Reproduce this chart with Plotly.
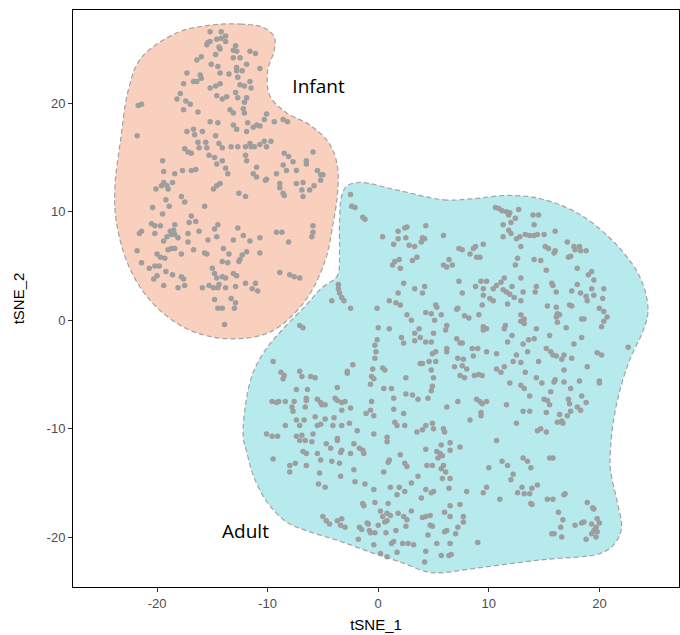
import plotly.graph_objects as go

# ---- data (tSNE coordinates) ----
infant_x = [-15.2,-14.2,-13.8,-14.6,-14.2,-13.8,-15.4,-15.5,-15.2,-14.4,-14.3,-12.9,-13.1,-12.8,-11.6,-11.1,-14.7,-16.0,-16.4,-13.1,-12.5,-15.1,-14.5,-12.8,-12.8,-12.3,-11.9,-10.7,-17.3,-16.1,-16.0,-16.7,-16.4,-14.3,-13.5,-12.7,-12.5,-12.1,-11.6,-11.5,-15.2,-14.7,-14.3,-17.6,-17.9,-18.2,-14.6,-14.1,-13.7,-12.9,-12.7,-11.9,-12.1,-12.2,-12.1,-13.4,-13.1,-17.4,-17.0,-17.6,-16.3,-21.4,-21.7,-21.8,-10.1,-10.3,-10.7,-9.4,-8.6,-8.2,-15.2,-14.5,-13.1,-12.8,-11.8,-11.9,-11.3,-11.0,-17.3,-16.7,-16.6,-15.9,-14.7,-14.4,-14.1,-16.3,-15.6,-16.2,-15.5,-13.3,-12.7,-12.0,-11.6,-11.5,-11.2,-10.7,-10.3,-10.1,-9.7,-17.5,-17.2,-16.9,-15.3,-14.8,-14.1,-14.6,-12.0,-11.9,-19.5,-19.4,-18.4,-17.7,-16.9,-16.5,-13.8,-13.6,-11.0,-11.3,-11.0,-10.1,-8.5,-8.1,-7.7,-8.6,-8.3,-7.4,-6.5,-6.5,-5.9,-5.5,-5.2,-5.0,-9.2,-5.2,
            -19.4,-19.1,-19.6,-19.0,-20.1,-18.6,-14.3,-14.6,-14.9,-10.2,-8.9,-8.9,-7.4,-6.8,-6.9,-6.2,-5.8,-8.6,-8.5,-6.8,-12.6,-12.0,-17.8,-17.5,-19.2,-18.9,-20.4,-19.5,-15.7,-16.9,-17.1,-16.5,-20.5,-20.2,-19.7,-18.4,-21.4,-21.6,-20.2,-18.8,-18.5,-18.7,-18.4,-18.1,-19.1,-19.4,-17.2,-17.2,-16.2,-15.4,-14.8,-14.5,-14.6,-12.7,-13.1,-12.2,-11.6,-10.7,-9.2,-8.7,-8.1,-5.9,-5.9,-6.0,-21.8,-21.4,-20.0,-19.7,-19.3,-19.0,-18.7,-18.4,-17.8,-16.7,-15.7,-15.5,-14.0,-13.5,-14.1,-13.6,-12.3,-12.5,-12.6,-11.9,-10.7,-20.7,-20.2,-19.8,-19.2,-18.6,-17.8,-17.6,-20.0,-20.3,-19.4,-18.1,-17.5,-15.0,-14.8,-14.6,-14.1,-13.8,-12.8,-13.1,-15.9,-15.3,-14.9,-14.5,-14.4,-13.8,-12.9,-12.0,-11.4,-11.1,-10.9,-8.9,-8.0,-7.6,-7.1,-14.8,-14.5,-14.1,-13.3,-12.9,-13.0,-13.9]
infant_y = [26.6,26.6,26.2,25.9,26.0,25.7,25.6,25.4,25.7,25.2,25.0,25.3,24.9,24.8,24.8,24.6,24.5,24.3,24.0,24.2,24.2,23.6,23.4,23.3,23.0,23.0,23.6,23.2,22.8,22.6,22.3,22.0,22.0,22.8,22.7,22.4,21.7,21.6,22.0,21.4,21.4,21.6,21.8,21.8,20.9,20.4,20.7,20.4,20.6,21.0,20.5,20.5,20.1,19.5,19.1,19.4,19.1,20.2,19.9,19.4,19.2,19.9,19.8,17.0,19.0,18.5,17.9,18.3,18.5,18.3,18.3,18.2,18.0,17.6,18.2,17.4,17.8,18.0,17.4,17.6,17.1,17.4,17.0,16.3,15.9,16.4,16.4,15.9,15.9,16.0,16.0,16.0,16.3,16.0,16.0,16.2,16.5,16.0,16.5,15.8,15.5,15.4,15.2,15.0,14.7,14.4,15.2,14.7,14.7,13.7,13.5,13.8,13.8,13.9,14.0,13.5,14.1,13.5,13.2,13.0,15.4,15.1,14.6,14.3,13.8,13.8,14.7,14.4,15.5,13.8,13.4,13.4,13.5,12.9,
            12.7,12.4,12.4,12.1,12.1,12.7,12.6,12.4,12.1,12.9,12.6,12.2,12.6,12.7,12.0,12.0,12.4,11.7,11.5,11.4,11.7,11.4,11.4,10.9,11.1,10.5,10.4,9.8,10.5,9.6,9.0,9.1,8.9,8.7,8.7,8.8,8.2,8.0,8.0,8.2,8.3,7.9,7.9,7.6,7.7,7.3,8.0,7.2,8.2,7.4,8.4,8.8,7.7,8.5,7.4,7.8,7.3,7.6,8.1,8.1,7.2,8.7,8.1,7.7,6.4,5.3,6.1,5.8,5.7,6.5,6.6,6.6,6.1,6.5,6.2,6.1,6.6,6.1,5.4,5.3,6.0,5.6,5.4,6.3,6.2,4.8,5.0,5.0,4.5,4.2,4.0,3.8,4.1,3.8,3.2,3.0,3.2,4.8,4.3,3.9,4.0,3.9,4.1,4.3,3.0,3.2,3.0,3.0,3.3,3.0,3.1,3.4,2.9,3.4,2.7,4.4,4.2,4.0,3.9,1.9,1.1,1.1,2.0,1.6,1.1,-0.4]

adult_x = [-7.1,-6.8,
           -2.5,-2.4,-2.1,-1.4,-1.2,0.4,1.8,2.4,2.6,4.3,1.8,1.4,2.5,2.8,3.3,4.0,4.2,3.9,5.9,1.9,1.5,1.3,2.0,3.1,3.5,5.9,6.2,-3.6,-3.6,-3.5,-3.3,-4.2,-3.1,2.3,3.3,4.2,4.0,1.8,1.0,1.6,2.0,5.2,-2.5,-0.1,
           10.6,10.9,11.2,11.6,11.9,11.8,12.7,14.0,14.5,14.1,12.4,12.0,11.3,11.3,11.8,12.0,12.5,12.8,13.3,13.7,14.1,14.4,15.0,16.0,7.3,7.6,8.6,8.8,9.5,8.3,8.9,9.2,12.9,15.1,15.4,15.9,16.0,17.1,17.7,18.2,18.8,17.2,17.4,17.8,18.3,6.4,6.7,12.6,12.4,14.1,14.7,15.2,12.9,18.0,19.0,19.3,19.5,7.3,7.6,8.8,9.3,9.8,9.5,9.5,10.1,10.4,10.4,10.7,11.1,11.4,11.3,11.6,11.9,12.3,12.1,12.9,13.1,11.7,14.3,14.2,15.7,15.8,16.1,15.3,16.1,17.3,17.5,17.5,18.0,18.3,18.8,18.9,19.3,19.5,20.4,20.3,20.0,7.2,9.4,
           0.0,1.0,-0.1,-0.3,-0.2,-0.3,-0.5,-0.6,-0.7,-0.4,2.6,3.0,4.3,4.8,5.1,5.3,5.7,6.1,6.2,2.1,2.3,3.3,3.7,3.8,3.3,4.3,4.8,5.0,4.9,5.2,5.2,4.6,4.0,3.8,4.8,5.0,0.4,0.6,2.5,-2.3,-2.8,-2.8,-3.7,-9.5,-8.8,-8.5,-8.6,-7.1,-6.9,-6.1,-5.7,-7.4,-6.4,-6.5,-6.5,-5.5,-5.2,-5.1,-4.8,-3.9,-3.7,-3.3,-3.0,-3.3,-2.5,-9.6,-9.2,-9.0,-8.4,-7.8,-7.7,-7.6,-6.6,-7.4,-7.1,-6.7,-8.4,-5.7,-5.5,-5.2,-4.8,-4.0,-4.1,-3.3,-2.6,-1.9,-1.1,-0.7,-0.4,-0.6,0.5,1.2,1.4,1.4,1.5,1.7,2.3,2.4,2.5,3.1,3.6,4.5,4.8,4.9,3.5,4.0,4.3,4.9,5.0,5.9,6.0,6.2,-10.1,-9.6,-9.1,-7.4,-6.9,-5.9,-3.7,-0.4,0.8,
           7.1,7.8,8.2,9.1,7.1,7.4,7.6,6.2,6.2,7.2,7.7,6.9,7.6,8.0,7.4,7.8,8.7,9.1,9.4,8.6,8.5,9.0,9.8,10.7,9.5,9.8,9.5,11.5,11.4,12.1,11.7,12.9,12.9,13.2,13.2,14.3,14.1,13.6,13.1,13.5,12.5,12.2,12.9,14.5,16.2,16.1,16.4,16.2,17.0,15.5,15.2,15.6,15.8,16.1,16.6,16.8,17.5,18.4,18.6,18.4,17.7,20.4,20.7,20.4,20.2,19.8,20.2,22.6,13.3,14.3,14.8,12.9,13.2,11.9,10.7,11.1,11.4,16.0,15.9,16.8,17.4,18.2,18.9,16.8,20.0,20.0,13.7,15.6,15.0,15.3,15.5,15.2,13.1,13.7,11.6,8.9,9.2,9.4,9.8,9.3,9.3,7.2,8.3,17.2,17.3,18.0,18.3,18.4,18.8,17.4,17.1,16.4,16.2,16.6,16.7,12.5,14.7,15.2,14.4,10.7,
           -7.1,-6.6,-6.0,-9.5,-8.0,-8.0,-7.5,-6.8,-6.5,-6.5,-5.5,-5.2,-4.7,-4.3,-3.7,-3.4,-3.3,-4.2,-3.5,-5.3,-3.4,-5.4,-4.8,-2.2,-2.5,-1.7,-1.4,-1.3,-2.2,-2.1,-1.2,-0.4,0.8,1.0,0.9,0.5,2.0,2.4,2.6,1.1,1.9,1.7,2.4,0.9,3.0,3.6,4.3,4.4,4.9,5.3,5.6,5.4,5.8,5.9,5.7,6.1,5.8,6.5,5.7,5.0,4.8,3.9,4.3,-1.4,-1.3,-0.3,0.2,0.4,0.8,0.8,0.6,1.1,0.0,-0.9,-1.0,-0.8,-0.3,-0.7,0.7,1.6,1.8,2.3,2.6,2.5,3.0,-5.0,-4.7,-4.4,-3.7,-3.3,-3.4,-3.0,-1.7,-1.5,-1.8,-0.4,0.2,0.8,1.2,1.4,1.7,2.2,2.7,3.2,4.0,4.3,4.7,4.7,4.9,4.5,5.3,6.0,6.2,6.0,6.5,4.3,5.7,4.2,6.4,6.5,6.4,6.5,
           6.5,7.4,11.2,11.7,10.0,13.1,13.5,13.8,15.5,15.8,12.2,12.0,14.4,13.9,13.0,12.6,13.2,13.7,9.8,9.5,8.0,11.0,13.8,13.9,15.3,15.8,16.9,16.8,7.4,7.7,7.7,7.2,7.0,9.0,6.5,6.6,16.3,16.7,16.5,15.7,15.9,16.6,17.8,18.4,18.6,18.9,19.4,19.5,19.3,19.8,20.0,19.7,19.5,19.3,19.8,19.7,18.8]
adult_y = [-0.5,-0.7,
           11.6,10.5,10.4,9.5,9.3,7.7,8.2,8.5,8.6,8.7,7.5,7.0,7.6,6.9,6.8,7.6,7.5,7.2,7.8,5.6,5.4,5.1,4.8,5.5,5.8,5.1,4.9,3.3,2.9,2.5,2.1,1.8,1.8,3.4,2.9,3.1,2.5,2.5,1.8,1.6,1.4,1.4,1.1,1.1,
           10.4,10.3,10.1,10.0,9.9,9.7,10.2,9.7,9.7,8.8,9.4,9.0,8.8,7.7,8.3,8.0,7.5,7.7,7.9,7.8,7.8,7.9,7.9,8.2,6.6,6.5,6.6,6.8,7.0,6.1,5.8,5.8,6.8,6.8,6.6,6.2,6.4,7.2,6.8,6.8,6.4,5.8,5.9,6.5,6.4,5.6,5.1,5.7,5.1,5.6,5.5,4.6,3.9,4.8,4.2,4.5,3.7,3.6,2.5,3.1,3.6,3.6,2.9,2.3,2.0,1.8,2.9,3.2,3.5,3.9,2.8,2.6,2.4,2.1,3.1,1.8,2.6,1.5,3.1,2.6,3.4,3.2,2.6,1.3,1.2,1.4,1.3,2.7,3.3,2.5,2.2,1.8,2.9,2.3,2.9,2.0,1.1,1.1,1.4,
           -0.7,-0.8,-1.8,-2.3,-2.9,-3.5,-4.5,-5.2,-5.9,-5.4,0.5,0.0,0.7,0.6,0.0,1.2,0.5,-0.9,-0.5,-1.6,-2.1,-1.2,-0.8,-1.6,-1.9,-2.0,-2.0,-1.2,-3.1,-2.9,-3.8,-3.8,-4.0,-4.0,-4.6,-5.3,-4.4,-4.6,-5.3,-4.1,-4.7,-4.9,-6.2,-3.8,-4.8,-5.1,-5.4,-4.7,-5.2,-5.2,-5.3,-6.4,-6.4,-7.2,-7.4,-7.3,-7.6,-7.8,-7.8,-7.2,-7.4,-7.6,-7.5,-8.3,-8.1,-7.5,-7.6,-7.5,-7.5,-8.0,-8.4,-7.5,-8.0,-9.2,-9.7,-9.2,-9.7,-8.9,-9.7,-9.6,-9.1,-9.0,-9.7,-9.7,-9.5,-10.2,-8.6,-8.3,-8.8,-7.5,-6.3,-6.3,-7.2,-8.2,-9.4,-9.7,-8.6,-9.7,-6.8,-6.9,-7.3,-7.2,-6.5,-6.1,-10.3,-10.1,-9.7,-9.5,-10.0,-10.0,-10.3,-8.0,-10.5,-10.7,-10.7,-10.7,-10.6,-10.5,-10.9,-10.5,-10.8,
           1.0,0.4,0.2,0.5,-1.7,-2.1,-2.1,-2.6,-2.9,-3.5,-3.6,-4.3,-4.2,-4.5,-5.1,-5.3,-5.1,-5.0,-5.1,-3.3,-2.6,-2.6,-2.9,-3.1,-0.6,-0.8,-0.9,-0.5,-0.8,-1.4,-2.0,0.5,-0.1,0.1,-0.3,-0.8,-1.7,-1.8,-2.2,-2.9,-3.2,-3.8,-3.9,-3.8,0.6,0.3,0.5,-0.2,-0.7,-1.4,-2.6,-2.9,-3.2,-3.3,-3.6,-3.2,-3.5,0.1,0.1,-1.6,-2.2,0.8,0.3,-0.1,-0.6,-3.0,-3.2,-2.5,-4.8,-5.3,-5.8,-6.0,-6.3,-5.8,-4.5,-4.8,-4.3,-5.5,-5.7,-5.7,-6.3,-5.6,-4.3,-4.6,-5.6,-5.8,-7.0,-6.6,-7.3,-7.4,-7.8,-8.5,-8.4,-8.4,-7.8,-7.3,-7.5,-7.7,-7.5,-8.5,-8.8,-7.5,-9.2,-7.3,-7.7,-8.0,-8.3,-7.0,-7.6,-8.4,-8.8,-8.7,-9.4,-9.3,-9.5,-9.5,-10.0,-10.3,-10.2,-11.1,
           -11.1,-11.1,-11.2,-12.8,-13.4,-14.0,-13.2,-12.1,-12.3,-13.4,-12.3,-12.9,-11.4,-11.8,-11.1,-12.2,-12.0,-13.0,-13.2,-14.1,-14.4,-15.1,-15.4,-11.4,-12.3,-11.8,-12.0,-12.3,-13.8,-14.9,-15.1,-15.6,-11.2,-12.9,-13.1,-14.0,-12.4,-13.2,-13.5,-15.4,-15.4,-16.1,-15.8,-16.9,-15.0,-14.4,-11.9,-13.4,-13.4,-12.1,-12.3,-12.7,-12.5,-13.4,-13.7,-14.0,-14.6,-12.0,-11.5,-15.8,-15.9,-16.4,-15.6,-16.9,-17.1,-16.8,-17.6,-18.1,-17.8,-18.5,-18.6,-18.0,-18.9,-18.8,-18.7,-19.4,-19.6,-19.6,-19.6,-19.4,-17.8,-18.1,-18.4,-19.0,-17.6,-18.1,-18.5,-18.8,-18.5,-18.3,-18.9,-19.1,-19.1,-19.3,-20.2,-20.7,-21.5,-21.8,-20.6,-20.4,-21.4,-20.6,-20.6,-20.7,-18.2,-18.1,-18.0,-18.9,-19.0,-19.8,-20.6,-19.5,-19.4,-17.7,-18.1,-21.3,-21.7,-22.3,-21.7,-17.1,-15.5,-14.6,
           -11.3,-11.7,-13.0,-13.4,-13.6,-12.7,-13.0,-13.6,-12.7,-12.7,-14.2,-14.7,-15.2,-15.5,-15.4,-15.9,-16.0,-16.0,-15.4,-15.9,-15.8,-16.5,-16.9,-17.0,-16.5,-16.5,-16.0,-16.1,-17.0,-18.1,-18.6,-19.1,-19.7,-20.5,-20.6,-21.6,-17.7,-18.4,-19.1,-19.7,-19.7,-20.0,-18.9,-18.7,-18.6,-16.8,-17.3,-17.4,-18.8,-18.3,-18.7,-19.1,-19.4,-19.7,-19.5,-20.0,-20.2]

# hull outlines (data units)
infant_hull_x = [-15.2,-12.5,-10.4,-9.4,-9.4,-10.0,-9.8,-8.4,-6.2,-4.5,-3.7,-3.7,-4.1,-4.8,-6.6,-9.8,-13.8,-17.5,-20.6,-22.6,-23.7,-23.8,-23.3,-22.6,-21.5,-18.2,-15.2]
infant_hull_y = [27.2,27.3,27.0,26.1,24.9,23.0,20.7,19.2,18.0,16.4,14.3,11.5,8.8,5.5,1.8,-1.1,-1.7,-0.7,1.8,5.1,9.2,12.4,16.6,21.2,24.1,26.5,27.2]
adult_hull_x = [1.7,5.9,8.6,11.6,14.7,18.3,21.6,23.7,24.4,23.9,22.8,21.9,21.3,21.0,21.0,21.6,22.0,21.3,20.1,14.7,8.6,5.6,4.4,2.0,-0.4,-3.4,-6.5,-8.3,-10.1,-11.3,-11.9,-12.2,-12.0,-11.3,-10.1,-8.6,-6.5,-5.2,-3.7,-3.5,-3.5,-3.3,-2.8,-1.6,1.7]
adult_hull_y = [12.0,11.1,11.2,11.5,11.2,9.7,6.9,3.9,0.9,-1.1,-3.5,-6.3,-9.1,-12.0,-13.8,-16.7,-19.2,-20.7,-21.5,-22.1,-22.9,-23.3,-23.2,-22.3,-21.5,-20.4,-19.4,-18.6,-16.7,-14.3,-12.1,-10.9,-7.8,-4.8,-2.6,-0.8,1.4,2.9,4.1,6.3,8.8,11.5,12.4,12.7,12.0]

labels = ["Infant", "Adult"]
label_x = [-5.4, -12.0]
label_y = [21.4, -19.6]

x_ticks = [-20, -10, 0, 10, 20]
y_ticks = [-20, -10, 0, 10, 20]
tick_text = ["-20", "-10", "0", "10", "20"]

fig = go.Figure()
fig.add_trace(go.Scatter(x=infant_hull_x, y=infant_hull_y, mode="lines", fill="toself",
                         fillcolor="#F9CFBD", line=dict(color="#A3A3A3", width=1.2, dash="5px,3px", shape="spline", smoothing=1.0),
                         hoverinfo="skip", showlegend=False))
fig.add_trace(go.Scatter(x=adult_hull_x, y=adult_hull_y, mode="lines", fill="toself",
                         fillcolor="#B6EAED", line=dict(color="#A3A3A3", width=1.2, dash="5px,3px", shape="spline", smoothing=1.0),
                         hoverinfo="skip", showlegend=False))
fig.add_trace(go.Scatter(x=infant_x + adult_x, y=infant_y + adult_y, mode="markers",
                         marker=dict(color="#9E9E9E", size=5.5, line=dict(width=0)), showlegend=False))
fig.add_trace(go.Scatter(x=label_x, y=label_y, mode="text", text=labels,
                         textfont=dict(family="Open Sans", size=19, color="black"), showlegend=False))

axis_common = dict(showgrid=False, zeroline=False, showline=True, linecolor="black", linewidth=1,
                   mirror=True, ticks="outside", ticklen=4, tickcolor="#333333",
                   tickfont=dict(family="Liberation Sans", size=13, color="#4D4D4D"))
fig.update_layout(
    width=680, height=635,
    margin=dict(l=73, r=1, t=10, b=48),
    paper_bgcolor="white", plot_bgcolor="white",
    xaxis=dict(range=[-27.6, 27.2], tickvals=x_ticks, ticktext=tick_text,
               title=dict(text="tSNE_1", font=dict(family="Liberation Sans", size=15, color="black"), standoff=9), **axis_common),
    yaxis=dict(range=[-24.6, 28.6], tickvals=y_ticks, ticktext=tick_text,
               title=dict(text="tSNE_2", font=dict(family="Liberation Sans", size=15, color="black"), standoff=18), **axis_common),
)
fig.write_html("out.html", config={"displayModeBar": False},
               post_script="document.body.style.margin='0';document.body.style.overflow='hidden';")
